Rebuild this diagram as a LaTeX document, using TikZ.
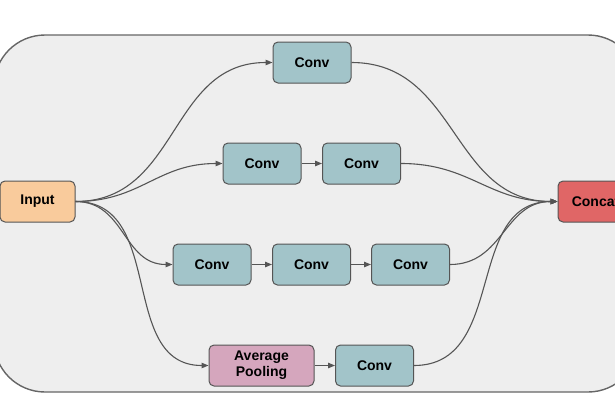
\documentclass[tikz,border=0pt]{standalone}
\usepackage{fontspec}
\setmainfont{Liberation Sans}
\usetikzlibrary{arrows.meta}
\definecolor{bgfill}{HTML}{EEEEEE}
\definecolor{bgline}{HTML}{666666}
\definecolor{edgec}{HTML}{555555}
\definecolor{convc}{HTML}{A2C4C9}
\definecolor{poolc}{HTML}{D5A6BD}
\definecolor{inc}{HTML}{F9CB9C}
\definecolor{catc}{HTML}{E06666}
\tikzset{
  blk/.style={draw=edgec, line width=1pt, rounded corners=5pt, minimum height=41pt,
    minimum width=78pt, inner sep=0pt, align=center,
    font=\fontsize{14}{16}\selectfont\bfseries},
  convbox/.style={blk, fill=convc},
  poolbox/.style={blk, fill=poolc, minimum width=105pt},
  inbox/.style={blk, fill=inc, minimum width=75pt},
  catbox/.style={blk, fill=catc, minimum width=75pt},
  conn/.style={draw=edgec, line width=1.1pt},
  arr/.style={conn, -{Triangle[length=7pt,width=5.5pt]}},
  curv/.style={out=0, in=180, looseness=1.1}
}
\begin{document}
\begin{tikzpicture}[x=1pt,y=-1pt]
\useasboundingbox (0,0) rectangle (615,410);
\draw[fill=bgfill, draw=bgline, line width=1.4pt, rounded corners=51pt] (-6,35) rectangle (639,392);

\node[inbox] (in) at (37.5,201.5) {Input};
\node[catbox] (cat) at (595.5,201.5) {Concat};

\node[convbox] (a1) at (312,62.5) {Conv};

\node[convbox] (b1) at (262,163.5) {Conv};
\node[convbox] (b2) at (361.5,163.5) {Conv};

\node[convbox] (c1) at (212,264.5) {Conv};
\node[convbox] (c2) at (311.5,264.5) {Conv};
\node[convbox] (c3) at (410.5,264.5) {Conv};

\node[poolbox] (d1) at (261.5,365.5) {Average\\Pooling};
\node[convbox] (d2) at (374.5,365.5) {Conv};

\draw[arr] (in.east) to[curv] (a1.west);
\draw[arr] (in.east) to[curv] (b1.west);
\draw[arr] (in.east) to[curv] (c1.west);
\draw[arr] (in.east) to[curv] (d1.west);

\draw[arr] (b1) -- (b2);
\draw[arr] (c1) -- (c2);
\draw[arr] (c2) -- (c3);
\draw[arr] (d1) -- (d2);

\draw[arr] (a1.east) to[curv] (cat.west);
\draw[arr] (b2.east) to[curv] (cat.west);
\draw[arr] (c3.east) to[curv] (cat.west);
\draw[arr] (d2.east) to[curv] (cat.west);
\end{tikzpicture}
\end{document}
